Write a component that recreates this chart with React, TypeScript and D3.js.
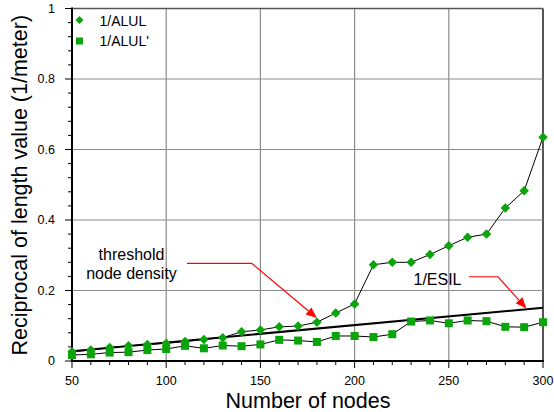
import React from "react";
import * as d3 from "d3";

const nodes = [50, 60, 70, 80, 90, 100, 110, 120, 130, 140, 150, 160, 170, 180, 190, 200, 210, 220, 230, 240, 250, 260, 270, 280, 290, 300];
const alul = [0.026, 0.031, 0.038, 0.043, 0.047, 0.050, 0.055, 0.061, 0.066, 0.083, 0.088, 0.097, 0.099, 0.110, 0.136, 0.162, 0.273, 0.280, 0.280, 0.302, 0.327, 0.351, 0.360, 0.434, 0.483, 0.635];
const alulPrime = [0.017, 0.019, 0.024, 0.025, 0.031, 0.034, 0.043, 0.036, 0.044, 0.042, 0.047, 0.060, 0.058, 0.054, 0.071, 0.071, 0.068, 0.076, 0.112, 0.115, 0.107, 0.115, 0.113, 0.097, 0.096, 0.110];
const esilNodes = [50, 300];
const esil = [0.028, 0.151];

const xTicks = [50, 100, 150, 200, 250, 300];
const yTicks = [0, 0.2, 0.4, 0.6, 0.8, 1];
const yTickLabels = ["0", "0.2", "0.4", "0.6", "0.8", "1"];
const legendLabels = ["1/ALUL", "1/ALUL'"];

// annotation anchors in data space: start, corner, tip
const thresholdArrow: [number, number][] = [[111, 0.277], [145.4, 0.277], [180, 0.122]];
const esilArrow: [number, number][] = [[260.7, 0.239], [276.1, 0.239], [291.2, 0.149]];

const W = 554, H = 412;
const GREEN = "#0aa50a";
const FONT = "Liberation Sans, Arial, sans-serif";

export default function App() {
  const x = d3.scaleLinear().domain([50, 300]).range([72, 543]);
  const y = d3.scaleLinear().domain([0, 1]).range([361, 8.5]);
  const line = d3.line<[number, number]>().x(d => x(d[0])).y(d => y(d[1]));
  const ptsA: [number, number][] = nodes.map((n, i) => [n, alul[i]]);
  const ptsB: [number, number][] = nodes.map((n, i) => [n, alulPrime[i]]);
  const ptsE: [number, number][] = esilNodes.map((n, i) => [n, esil[i]]);
  const xMinor = d3.range(50, 301, 10);
  const yMinor = d3.range(0, 1.0001, 0.04);
  const diamond = d3.symbol().type(d3.symbolDiamond2).size(58)();
  const diamondSmall = d3.symbol().type(d3.symbolDiamond2).size(40)();

  const arrow = (pts: [number, number][], key: string) => {
    const p = pts.map(d => [x(d[0]), y(d[1])]);
    const [cx, cy] = p[1];
    const [tx, ty] = p[2];
    const ang = Math.atan2(ty - cy, tx - cx);
    const L = 11, Wd = 4.5;
    const bx = tx - L * Math.cos(ang), by = ty - L * Math.sin(ang);
    const nx = -Math.sin(ang), ny = Math.cos(ang);
    const head = `M${tx},${ty}L${bx + nx * Wd},${by + ny * Wd}L${bx - nx * Wd},${by - ny * Wd}Z`;
    return (
      <g key={key}>
        <path d={`M${p[0][0]},${p[0][1]}L${cx},${cy}L${bx},${by}`} fill="none" stroke="#ff0000" strokeWidth={1.2} />
        <path d={head} fill="#ff0000" />
      </g>
    );
  };

  return (
    <svg width={W} height={H} style={{ position: "absolute", left: 0, top: 0, background: "#fff" }} fontFamily={FONT}>
      {/* grid */}
      {xTicks.slice(1).map(t => (
        <line key={"gx" + t} x1={x(t)} x2={x(t)} y1={y(0)} y2={y(1)} stroke={t === 300 ? "#555" : "#8c8c8c"} strokeWidth={t === 300 ? 2 : 1.2} />
      ))}
      {yTicks.slice(1).map(t => (
        <line key={"gy" + t} x1={x(50)} x2={x(300)} y1={y(t)} y2={y(t)} stroke={t === 1 ? "#555" : "#8c8c8c"} strokeWidth={t === 1 ? 1.6 : 1.2} />
      ))}
      {/* axes */}
      <line x1={x(50)} x2={x(300) + 1} y1={y(0)} y2={y(0)} stroke="#000" strokeWidth={2} />
      <line x1={x(50)} x2={x(50)} y1={y(0) + 1} y2={y(1) - 1} stroke="#000" strokeWidth={2} />
      {xMinor.map(t => (
        <line key={"xm" + t} x1={x(t)} x2={x(t)} y1={y(0)} y2={y(0) + (t % 50 === 0 ? 7 : 4)} stroke="#000" strokeWidth={1} />
      ))}
      {yMinor.map((t, i) => (
        <line key={"ym" + i} x1={x(50)} x2={x(50) - (i % 5 === 0 ? 7 : 4)} y1={y(t)} y2={y(t)} stroke="#000" strokeWidth={1} />
      ))}
      {xTicks.map(t => (
        <text key={"xl" + t} x={x(t)} y={384.5} textAnchor="middle" fontSize={12.5} fill="#000">{t}</text>
      ))}
      {yTicks.map((t, i) => (
        <text key={"yl" + t} x={55} y={y(t)} dy="0.35em" textAnchor="end" fontSize={12.5} fill="#000">{yTickLabels[i]}</text>
      ))}
      <text x={(x(50) + x(300)) / 2 + 0.5} y={407.5} textAnchor="middle" fontSize={21.5} fill="#000">Number of nodes</text>
      <text transform={`translate(27,${(y(0) + y(1)) / 2 + 0.5}) rotate(-90)`} textAnchor="middle" fontSize={21.5} fill="#000">Reciprocal of length value (1/meter)</text>

      {/* series */}
      <path d={line(ptsE) || ""} fill="none" stroke="#000" strokeWidth={2} />
      <path d={line(ptsA) || ""} fill="none" stroke="#000" strokeWidth={1} />
      <path d={line(ptsB) || ""} fill="none" stroke="#000" strokeWidth={1} />
      {ptsB.map((d, i) => (
        <rect key={"s" + i} x={x(d[0]) - 4} y={y(d[1]) - 4} width={8} height={8} fill={GREEN} />
      ))}
      {ptsA.map((d, i) => (
        <path key={"d" + i} d={diamond || ""} transform={`translate(${x(d[0])},${y(d[1])})`} fill={GREEN} />
      ))}

      {/* annotations */}
      <text x={131.5} y={260} textAnchor="middle" fontSize={16} fill="#000">threshold</text>
      <text x={131.5} y={279} textAnchor="middle" fontSize={16} fill="#000">node density</text>
      <text x={437.5} y={285} textAnchor="middle" fontSize={16} fill="#000">1/ESIL</text>
      {arrow(thresholdArrow, "a1")}
      {arrow(esilArrow, "a2")}

      {/* legend */}
      <path d={diamondSmall || ""} transform="translate(79.5,20)" fill={GREEN} />
      <rect x={76} y={37.5} width={7} height={7} fill={GREEN} />
      <text x={99.5} y={25.5} fontSize={14} fill="#000">{legendLabels[0]}</text>
      <text x={99.5} y={46} fontSize={14} fill="#000">{legendLabels[1]}</text>
    </svg>
  );
}
